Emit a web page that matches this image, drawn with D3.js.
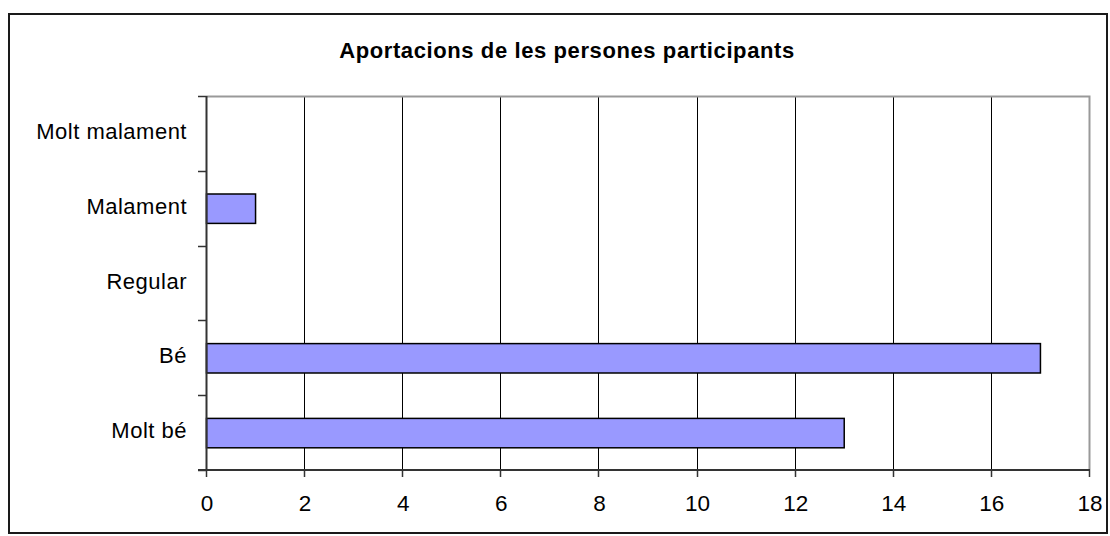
<!DOCTYPE html>
<html><head><meta charset="utf-8">
<script src="https://cdn.jsdelivr.net/npm/d3@7/dist/d3.min.js"></script>
<style>
html,body{margin:0;padding:0;background:#fff;}
svg{display:block;}
text{font-family:"Liberation Sans",Arial,sans-serif;fill:#000;}
</style></head><body>
<script>
const title = "Aportacions de les persones participants";
const categories = ["Molt malament", "Malament", "Regular", "Bé", "Molt bé"];
const values = [0, 1, 0, 17, 13];
const xTicks = [0, 2, 4, 6, 8, 10, 12, 14, 16, 18];

const W = 1110, H = 536;
const svg = d3.select("body").append("svg").attr("width", W).attr("height", H);

// outer frame
svg.append("rect").attr("x", 9).attr("y", 14).attr("width", 1098).attr("height", 519)
  .attr("fill", "#fff").attr("stroke", "#1a1a1a").attr("stroke-width", 2);

const plot = {left: 206, right: 1089, top: 96, bottom: 470};
const x = d3.scaleLinear().domain([0, 18]).range([plot.left, plot.right]);
const y = d3.scaleBand().domain(categories).range([plot.top, plot.bottom]).padding(0);

// title
svg.append("text").attr("x", 567).attr("y", 58).attr("text-anchor", "middle")
  .attr("font-size", 22).attr("font-weight", "bold").attr("letter-spacing", "0.6px")
  .text(title);

// gridlines
svg.append("g").selectAll("line").data(xTicks.filter(d => d > 0 && d < 18)).join("line")
  .attr("x1", d => Math.round(x(d)) + 0.5).attr("x2", d => Math.round(x(d)) + 0.5)
  .attr("y1", plot.top).attr("y2", plot.bottom)
  .attr("stroke", "#000").attr("stroke-width", 1);

// plot border top/right gray
svg.append("path")
  .attr("d", `M${plot.left},${plot.top + 0.5}H${plot.right + 0.5}V${plot.bottom}`)
  .attr("fill", "none").attr("stroke", "#999").attr("stroke-width", 2);

// bars
const barFrac = 0.393;
svg.append("g").selectAll("rect").data(categories.map((c, i) => ({c, v: values[i]})).filter(d => d.v > 0)).join("rect")
  .attr("x", x(0) + 0.5)
  .attr("y", d => y(d.c) + y.bandwidth() * (1 - barFrac) / 2 + 0.5)
  .attr("width", d => x(d.v) - x(0))
  .attr("height", y.bandwidth() * barFrac)
  .attr("fill", "#9999ff").attr("stroke", "#000").attr("stroke-width", 1.5);

// y axis
const yAxis = svg.append("g").attr("transform", `translate(${plot.left},0)`);
yAxis.append("line").attr("x1", 0.5).attr("x2", 0.5).attr("y1", plot.top).attr("y2", plot.bottom)
  .attr("stroke", "#333").attr("stroke-width", 2);
const yBounds = categories.map(c => y(c)).concat([plot.bottom]);
yAxis.selectAll("line.tk").data(yBounds).join("line").attr("class", "tk")
  .attr("x1", -8).attr("x2", 0).attr("y1", d => Math.round(d) + 0.5).attr("y2", d => Math.round(d) + 0.5)
  .attr("stroke", "#333").attr("stroke-width", 1.5);
yAxis.selectAll("text").data(categories).join("text")
  .attr("x", -19).attr("y", d => y(d) + y.bandwidth() / 2 + 5.5)
  .attr("text-anchor", "end").attr("font-size", 22).attr("letter-spacing", "0.5px")
  .text(d => d);

// x axis
const xAxis = svg.append("g").attr("transform", `translate(0,${plot.bottom})`);
xAxis.append("line").attr("x1", plot.left - 8).attr("x2", plot.right + 1).attr("y1", 0).attr("y2", 0)
  .attr("stroke", "#333").attr("stroke-width", 2);
xAxis.selectAll("line.tk").data(xTicks).join("line").attr("class", "tk")
  .attr("x1", d => Math.round(x(d)) + 0.5).attr("x2", d => Math.round(x(d)) + 0.5)
  .attr("y1", 0).attr("y2", 7).attr("stroke", "#333").attr("stroke-width", 1.5);
xAxis.selectAll("text").data(xTicks).join("text")
  .attr("x", d => x(d) + 1).attr("y", 41)
  .attr("text-anchor", "middle").attr("font-size", 22.5)
  .text(d => d);
</script>
</body></html>
